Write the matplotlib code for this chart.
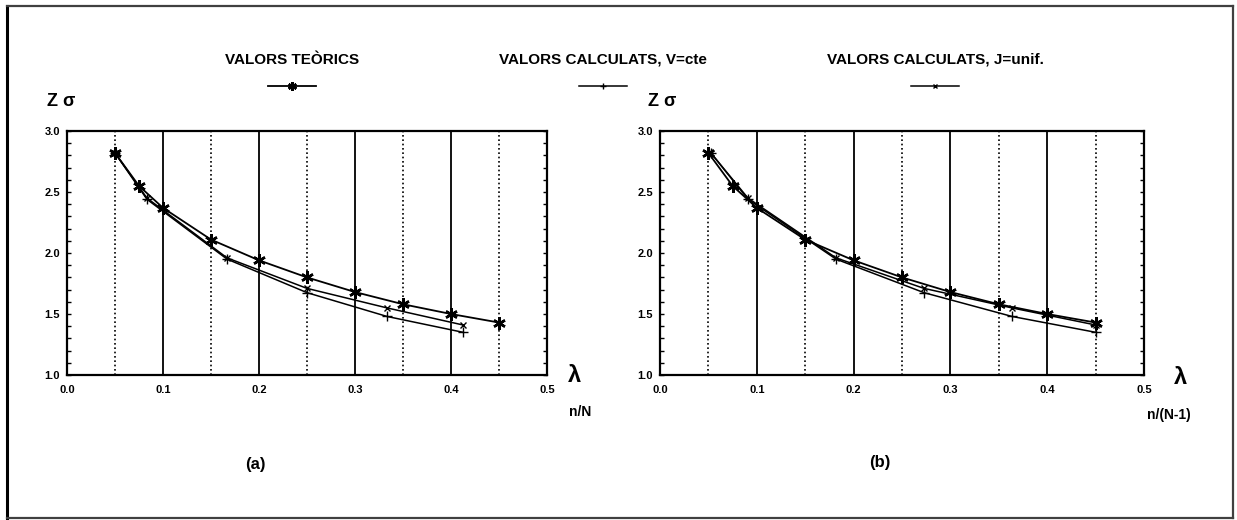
import matplotlib
matplotlib.use("Agg")
import matplotlib.pyplot as plt
from matplotlib.lines import Line2D
from matplotlib.ticker import MultipleLocator, FormatStrFormatter

plt.rcParams['font.family'] = ['Liberation Sans Narrow', 'Liberation Sans', 'DejaVu Sans']
plt.rcParams['font.weight'] = 'bold'

# valors teòrics (mateix eix lambda als dos gràfics)
lam_teo = [0.05, 0.075, 0.10, 0.15, 0.20, 0.25, 0.30, 0.35, 0.40, 0.45]
zs_teo = [2.82, 2.55, 2.37, 2.11, 1.94, 1.80, 1.68, 1.58, 1.50, 1.43]

# valors calculats: lambda = n/N (a) i n/(N-1) (b)
lam_calc_a = [0.05, 0.0833, 0.1667, 0.25, 0.3333, 0.4125]
lam_calc_b = [0.0526, 0.0909, 0.1818, 0.2727, 0.3636, 0.4500]
zs_vcte = [2.82, 2.44, 1.95, 1.675, 1.48, 1.35]
zs_junif = [2.82, 2.45, 1.96, 1.71, 1.55, 1.41]

x_ticks = [0.0, 0.1, 0.2, 0.3, 0.4, 0.5]
y_ticks = [1.0, 1.5, 2.0, 2.5, 3.0]

W, H = 1237, 520
fig = plt.figure(figsize=(W / 100, H / 100), dpi=100)


def draw_panel(ax, lam_calc):
    h_v, = ax.plot(lam_calc, zs_vcte, color='k', lw=1.1, marker='+', ms=7, mew=1.0)
    h_j, = ax.plot(lam_calc, zs_junif, color='k', lw=1.1, marker='x', ms=5, mew=1.0)
    h_t, = ax.plot(lam_teo, zs_teo, color='k', lw=1.3, marker=(6, 2, 0), ms=9, mew=1.8)
    ax.set_xlim(0, 0.5)
    ax.set_ylim(1, 3)
    ax.set_xticks(x_ticks)
    ax.xaxis.set_minor_locator(MultipleLocator(0.05))
    ax.set_yticks(y_ticks)
    ax.yaxis.set_minor_locator(MultipleLocator(0.1))
    ax.xaxis.set_major_formatter(FormatStrFormatter('%.1f'))
    ax.yaxis.set_major_formatter(FormatStrFormatter('%.1f'))
    ax.set_axisbelow(True)
    ax.grid(axis='x', which='major', color='k', lw=1.3, ls='-')
    ax.grid(axis='x', which='minor', color='k', lw=1.2, ls=(0, (1, 1.6)))
    ax.tick_params(axis='x', which='both', length=0, pad=7, labelsize=8)
    ax.tick_params(axis='y', which='both', direction='in', left=True, right=True,
                   length=3, width=1, labelsize=8, pad=5)
    for s in ax.spines.values():
        s.set_linewidth(1.6)
    return h_t, h_v, h_j


ax_a = fig.add_axes([67 / W, 145 / H, 480 / W, 244 / H])
ax_b = fig.add_axes([660 / W, 145 / H, 484 / W, 244 / H])
h_t, h_v, h_j = draw_panel(ax_a, lam_calc_a)
draw_panel(ax_b, lam_calc_b)

# llegenda: títol amb la mostra de la línia a sota
leg_kw = dict(labels=[''], frameon=False, handlelength=3.4, handletextpad=0,
              borderpad=0, labelspacing=0.9, markerscale=0.7, loc='upper center',
              alignment='center',
              title_fontproperties={'weight': 'bold', 'size': 11}, prop={'size': 10})
fig.legend(handles=[h_t], title='VALORS TEÒRICS',
           bbox_to_anchor=(292 / W, 1 - 46 / H), **leg_kw)
fig.legend(handles=[h_v], title='VALORS CALCULATS, V=cte',
           bbox_to_anchor=(603 / W, 1 - 46 / H), **leg_kw)
fig.legend(handles=[h_j], title='VALORS CALCULATS, J=unif.',
           bbox_to_anchor=(935 / W, 1 - 46 / H), **leg_kw)

# textos dels eixos
for x0 in (47, 648):
    fig.text(x0 / W, 1 - 101 / H, 'Z σ', fontsize=13, fontweight='bold', ha='left', va='center')
fig.text(574 / W, 1 - 376 / H, 'λ', fontsize=17, fontweight='bold', ha='center', va='center')
fig.text(1180 / W, 1 - 377 / H, 'λ', fontsize=17, fontweight='bold', ha='center', va='center')
fig.text(580 / W, 1 - 412 / H, 'n/N', fontsize=10, fontweight='bold', ha='center', va='center')
fig.text(1169 / W, 1 - 415 / H, 'n/(N-1)', fontsize=10, fontweight='bold', ha='center', va='center')
fig.text(255 / W, 1 - 465 / H, '(a)', fontsize=12, fontweight='bold', ha='center', va='center')
fig.text(880 / W, 1 - 463 / H, '(b)', fontsize=12, fontweight='bold', ha='center', va='center')

# marc exterior
fig.add_artist(Line2D([7 / W, 7 / W], [1 - 6 / H, 1 - 518 / H], color='k', lw=2.2))
fig.add_artist(Line2D([7 / W, 1233 / W], [1 - 6 / H, 1 - 6 / H], color='0.25', lw=1.6))
fig.add_artist(Line2D([7 / W, 1233 / W], [1 - 518 / H, 1 - 518 / H], color='0.25', lw=1.6))
fig.add_artist(Line2D([1233 / W, 1233 / W], [1 - 6 / H, 1 - 518 / H], color='0.25', lw=1.6))

fig.savefig('out.png', dpi=100)
